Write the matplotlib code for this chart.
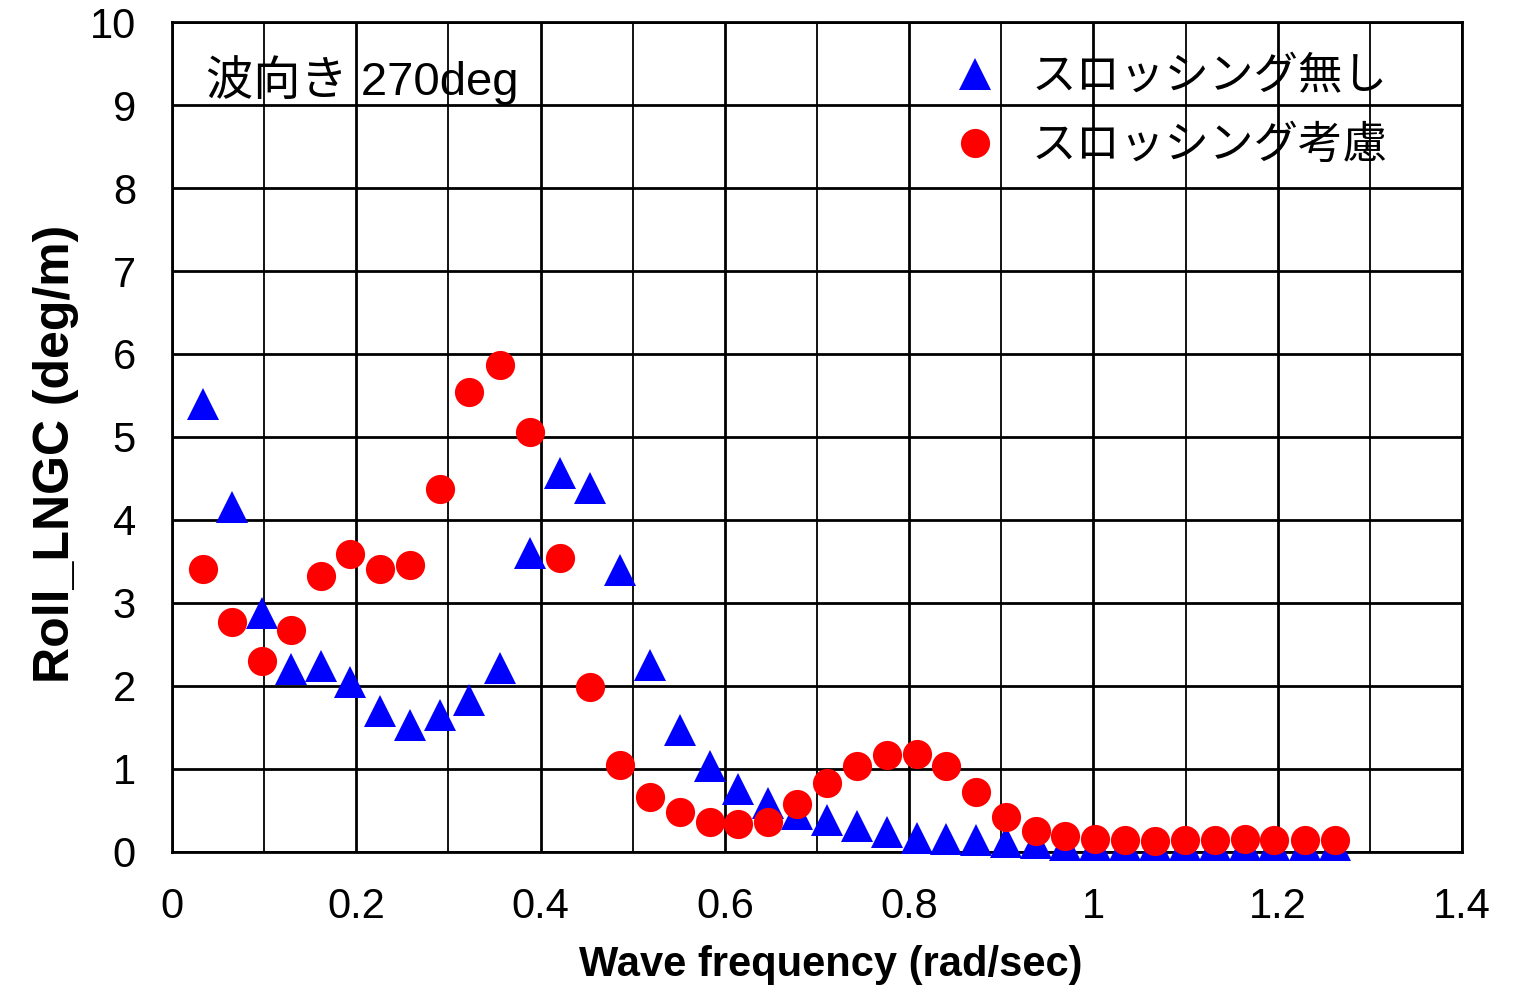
import matplotlib
matplotlib.use("Agg")
import matplotlib.pyplot as plt
from matplotlib.ticker import MultipleLocator

plt.rcParams['font.family'] = ['Liberation Sans', 'Noto Sans CJK JP']

# Wave frequency (rad/sec)
freq = [0.034, 0.065, 0.098, 0.129, 0.162, 0.193, 0.226, 0.258, 0.291, 0.322,
        0.356, 0.388, 0.421, 0.454, 0.486, 0.519, 0.551, 0.584, 0.614, 0.647,
        0.678, 0.711, 0.743, 0.776, 0.809, 0.840, 0.873, 0.905, 0.938, 0.969,
        1.002, 1.034, 1.067, 1.099, 1.132, 1.165, 1.196, 1.230, 1.262]

# Roll without sloshing
roll_no_slosh = [5.40, 4.16, 2.88, 2.20, 2.24, 2.05, 1.70, 1.53, 1.65, 1.83,
                 2.22, 3.60, 4.57, 4.38, 3.40, 2.25, 1.47, 1.04, 0.76, 0.59,
                 0.46, 0.38, 0.31, 0.24, 0.17, 0.16, 0.14, 0.12, 0.11, 0.09,
                 0.09, 0.09, 0.09, 0.09, 0.09, 0.09, 0.09, 0.09, 0.09]

# Roll with sloshing
roll_slosh = [3.41, 2.77, 2.30, 2.67, 3.33, 3.59, 3.41, 3.46, 4.37, 5.54,
              5.87, 5.06, 3.54, 1.99, 1.05, 0.66, 0.48, 0.36, 0.34, 0.36,
              0.58, 0.83, 1.04, 1.17, 1.18, 1.04, 0.72, 0.42, 0.25, 0.19,
              0.16, 0.14, 0.13, 0.14, 0.14, 0.16, 0.14, 0.14, 0.14]

labels = ["スロッシング無し", "スロッシング考慮"]

fig = plt.figure(figsize=(15.25, 9.96), dpi=100)
ax = fig.add_axes([0.1128, 0.1446, 0.8459, 0.8333])

ax.plot(freq, roll_no_slosh, linestyle='none', marker='^', markersize=23,
        color='#0000FF', markeredgewidth=0, label=labels[0], zorder=3, clip_on=False)
ax.plot(freq, roll_slosh, linestyle='none', marker='o', markersize=21,
        color='#FF0000', markeredgewidth=0, label=labels[1], zorder=4, clip_on=False)

ax.set_xlim(0, 1.4)
ax.set_ylim(0, 10)
ax.xaxis.set_major_locator(MultipleLocator(0.2))
ax.xaxis.set_minor_locator(MultipleLocator(0.1))
ax.yaxis.set_major_locator(MultipleLocator(1))
ax.xaxis.set_major_formatter(plt.FuncFormatter(lambda v, p: f"{v:g}"))

ax.grid(which='major', axis='both', color='black', linewidth=2.0, zorder=1)
ax.grid(which='minor', axis='x', color='black', linewidth=1.3, zorder=1)
ax.set_axisbelow(True)
for s in ax.spines.values():
    s.set_linewidth(2.0)
    s.set_color('black')

ax.tick_params(which='both', length=0, labelsize=30)
ax.tick_params(axis='x', pad=25)
ax.tick_params(axis='y', pad=26)
ax.set_xlabel("Wave frequency (rad/sec)", fontsize=30, fontweight='bold', labelpad=13)
ax.set_ylabel("Roll_LNGC (deg/m)", fontsize=36, fontweight='bold', labelpad=8)
ax.xaxis.label.set_x(0.511)
ax.yaxis.label.set_y(0.48)

ax.text(0.026, 0.93, "波向き 270deg", transform=ax.transAxes, fontsize=34,
        ha='left', va='center')

ax.legend(loc='upper left', bbox_to_anchor=(0.578, 1.0), frameon=False,
          fontsize=32, handlelength=1.0, handletextpad=0.76, labelspacing=0.61,
          borderaxespad=0.4, markerscale=1.0)

plt.savefig("out.png", dpi=100)
plt.close()
